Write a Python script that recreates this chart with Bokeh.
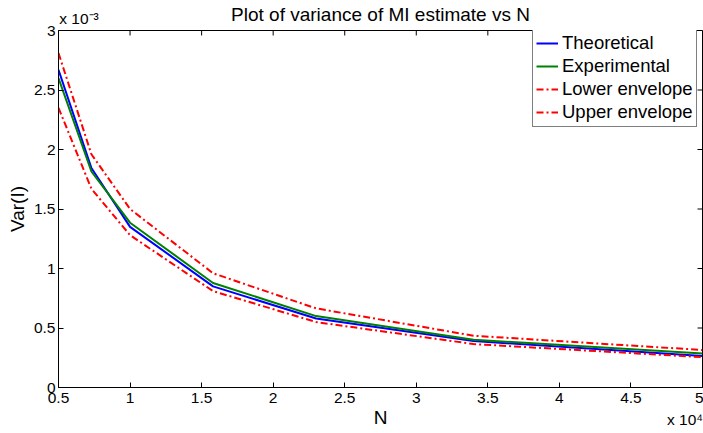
from bokeh.plotting import figure
from bokeh.models import (Range1d, FixedTicker, CustomJSTickFormatter, LinearAxis,
                          Legend, LegendItem)
from bokeh.embed import file_html
from bokeh.resources import INLINE

# ---- data ----
N = [5000, 7300, 10000, 15800, 23000, 34000, 50000]
theoretical = [2.67e-3, 1.845e-3, 1.35e-3, 0.850e-3, 0.580e-3, 0.390e-3, 0.265e-3]
experimental = [2.60e-3, 1.815e-3, 1.385e-3, 0.878e-3, 0.600e-3, 0.402e-3, 0.285e-3]
lower_env = [2.35e-3, 1.67e-3, 1.28e-3, 0.810e-3, 0.550e-3, 0.365e-3, 0.255e-3]
upper_env = [2.81e-3, 1.96e-3, 1.50e-3, 0.960e-3, 0.665e-3, 0.435e-3, 0.315e-3]

x_ticks = [5000, 10000, 15000, 20000, 25000, 30000, 35000, 40000, 45000, 50000]
y_ticks = [0, 0.0005, 0.001, 0.0015, 0.002, 0.0025, 0.003]

title_text = "Plot of variance of MI estimate vs N"
xlabel_text = "N"
ylabel_text = "Var(I)"
y_mult_text = "x 10\u207b\u00b3"
x_mult_text = "x 10\u2074"

FONT = "Liberation Sans"
W, H = 703, 433
BL, BR, BT, BB = 58, 1, 29, 46

x0, x1 = x_ticks[0], x_ticks[-1]
y0, y1 = y_ticks[0], y_ticks[-1]
fw, fh = W - BL - BR, H - BT - BB
px_x = (x1 - x0) / fw
px_y = (y1 - y0) / fh

p = figure(width=W, height=H, output_backend="svg", toolbar_location=None, title=None,
           x_range=Range1d(x0, x1), y_range=Range1d(y0, y1),
           min_border_left=BL, min_border_right=BR, min_border_top=BT,
           min_border_bottom=BB, background_fill_color="white",
           border_fill_color="white")
p.xgrid.visible = False
p.ygrid.visible = False
p.outline_line_color = "black"
p.outline_line_width = 1

def style(ax):
    ax.axis_line_color = "black"
    ax.axis_line_width = 1
    ax.major_tick_in = 5
    ax.major_tick_out = 0
    ax.major_tick_line_color = "black"
    ax.minor_tick_line_color = None
    ax.major_label_text_font = FONT
    ax.major_label_text_font_size = "15.5px"
    ax.major_label_text_color = "black"
    ax.axis_label_text_font = FONT
    ax.axis_label_text_font_size = "19px"
    ax.axis_label_text_font_style = "normal"
    ax.axis_label_text_color = "black"

p.xaxis.ticker = FixedTicker(ticks=x_ticks)
p.yaxis.ticker = FixedTicker(ticks=y_ticks)
p.xaxis.formatter = CustomJSTickFormatter(code="return String(Math.round(tick/1000)/10);")
p.yaxis.formatter = CustomJSTickFormatter(code="return String(Math.round(tick*10000)/10);")
style(p.xaxis[0])
style(p.yaxis[0])
p.xaxis.major_label_standoff = 5
p.yaxis.major_label_standoff = 3
p.yaxis.axis_label = ylabel_text
p.yaxis.axis_label_standoff = 3

# top band: exponent of the y axis and the title
top_ax = LinearAxis(ticker=FixedTicker(ticks=[x0 + 20.5 * px_x]),
                    formatter=CustomJSTickFormatter(args=dict(t=y_mult_text), code="return t;"))
style(top_ax)
top_ax.axis_line_color = None
top_ax.major_tick_line_color = None
top_ax.major_label_standoff = 4
top_ax.axis_label = title_text
top_ax.axis_label_standoff = -18
p.add_layout(top_ax, "above")

# bottom band: exponent of the x axis and the x label
bot_ax = LinearAxis(ticker=FixedTicker(ticks=[x1 - 16.5 * px_x]),
                    formatter=CustomJSTickFormatter(args=dict(t=x_mult_text), code="return t;"))
style(bot_ax)
bot_ax.axis_line_color = None
bot_ax.major_tick_line_color = None
bot_ax.major_label_standoff = 5
bot_ax.axis_label = xlabel_text
bot_ax.axis_label_standoff = -24
p.add_layout(bot_ax, "below")

# mirrored inward ticks on the top and right edges of the box
dx = 5 * px_x
dy = 5 * px_y
p.segment(x0=x_ticks, y0=[y1] * len(x_ticks), x1=x_ticks, y1=[y1 - dy] * len(x_ticks),
          line_color="black", line_width=1)
p.segment(x0=[x1] * len(y_ticks), y0=y_ticks, x1=[x1 - dx] * len(y_ticks), y1=y_ticks,
          line_color="black", line_width=1)

r_th = p.line(N, theoretical, line_color="#0000ff", line_width=2)
r_ex = p.line(N, experimental, line_color="#008000", line_width=2)
r_lo = p.line(N, lower_env, line_color="#ff0000", line_width=2, line_dash="7 3 2 3")
r_up = p.line(N, upper_env, line_color="#ff0000", line_width=2, line_dash="7 3 2 3")

legend = Legend(items=[
    LegendItem(label="Theoretical", renderers=[r_th]),
    LegendItem(label="Experimental", renderers=[r_ex]),
    LegendItem(label="Lower envelope", renderers=[r_lo]),
    LegendItem(label="Upper envelope", renderers=[r_up]),
], location=(474, 260))
legend.label_text_font = FONT
legend.label_text_font_size = "18.5px"
legend.label_text_color = "black"
legend.glyph_width = 22
legend.glyph_height = 22
legend.label_height = 22
legend.label_standoff = 4
legend.spacing = 1
legend.padding = 3
legend.margin = 0
legend.border_line_color = "black"
legend.border_line_width = 1
legend.background_fill_color = "white"
legend.background_fill_alpha = 1
p.add_layout(legend, "center")

open("out.html", "w").write(file_html(p, INLINE))
